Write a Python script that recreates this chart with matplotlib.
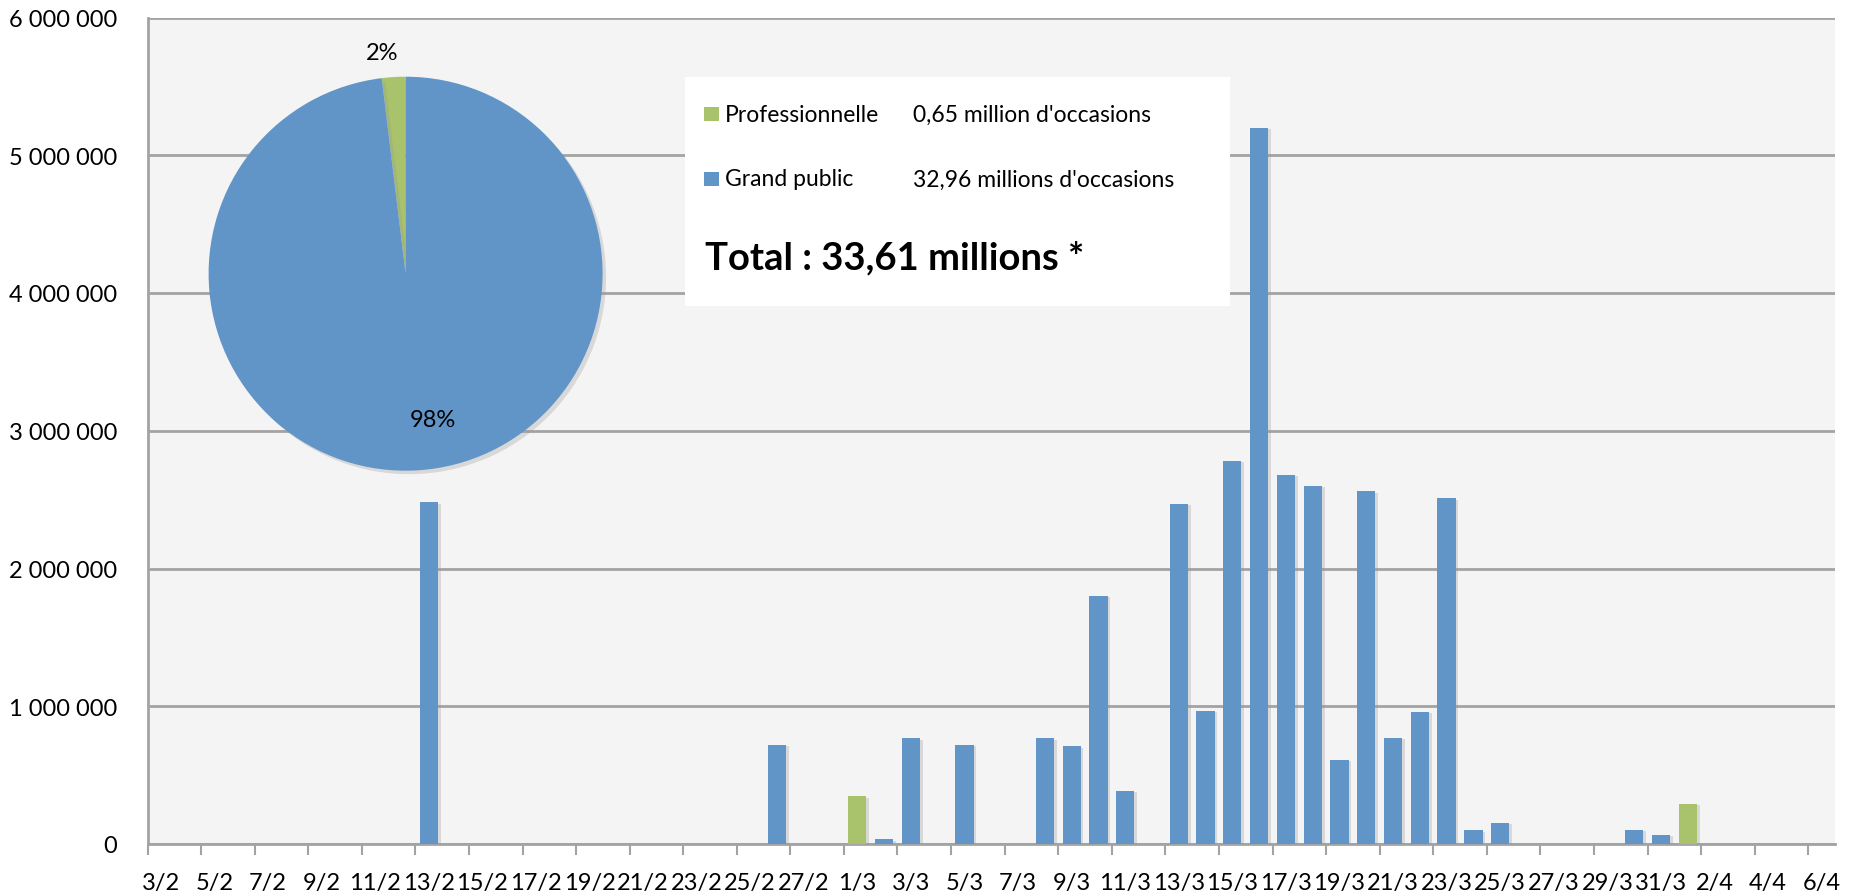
import matplotlib
matplotlib.use("Agg")
import matplotlib.pyplot as plt
import matplotlib.patheffects as pe
from matplotlib.patches import Rectangle
from matplotlib.ticker import FuncFormatter, FixedLocator
import pandas as pd
import numpy as np

plt.rcParams['font.family'] = ['Lato', 'DejaVu Sans']

# daily occasions, one slot per day from 3/2 to 6/4
days = pd.date_range("2019-02-03", "2019-04-06", freq="D")
day_labels = [f"{d.day}/{d.month}" for d in days]

gp_days = ["13/2", "26/2", "2/3", "3/3", "5/3", "8/3", "9/3", "10/3", "11/3",
           "13/3", "14/3", "15/3", "16/3", "17/3", "18/3", "19/3", "20/3",
           "21/3", "22/3", "23/3", "24/3", "25/3", "30/3", "31/3"]
gp_vals = [2480000, 720000, 34000, 767000, 720000, 767000, 710000, 1800000,
           386000, 2470000, 968000, 2780000, 5200000, 2680000, 2600000,
           610000, 2560000, 772000, 959000, 2510000, 100000, 153000,
           104000, 68000]

pro_days = ["1/3", "1/4"]
pro_vals = [347000, 291000]

# totals in millions, as announced
pie_labels = ["Professionnelle", "Grand public"]
pie_totals = [0.65, 32.96]
total_text = "Total : 33,61 millions *"

BLUE = "#6195C8"
GREEN = "#A8C36B"
GRID = "#A3A3A3"

W, H = 1854, 895
fig = plt.figure(figsize=(W / 100, H / 100), dpi=100)
fig.patch.set_facecolor("white")

ax = fig.add_axes([147.5 / W, (H - 845) / H, (1835 - 147.5) / W, (845 - 18.5) / H])
ax.set_facecolor("#F4F4F4")

shadow = [pe.SimplePatchShadow(offset=(2, -1), shadow_rgbFace="#999999", alpha=0.3), pe.Normal()]

gp_x = [day_labels.index(d) for d in gp_days]
pro_x = [day_labels.index(d) for d in pro_days]
ax.bar(gp_x, gp_vals, width=0.68, color=BLUE, zorder=3, path_effects=shadow)
ax.bar(pro_x, pro_vals, width=0.68, color=GREEN, zorder=3, path_effects=shadow)

ax.set_xlim(-0.5, len(days) - 0.5)
ax.set_ylim(0, 6000000)

# labels on every other day, tick marks on the slot edges
ax.xaxis.set_major_locator(FixedLocator(np.arange(0, len(days), 2)))
ax.set_xticklabels(day_labels[::2])
ax.xaxis.set_minor_locator(FixedLocator(np.arange(-0.5, len(days) - 1, 2)))
ax.tick_params(axis="x", which="major", length=0, labelsize=17, pad=20)
ax.tick_params(axis="x", which="minor", length=8, width=1.5, color=GRID)

ax.set_yticks(np.arange(0, 6000001, 1000000))
ax.yaxis.set_major_formatter(FuncFormatter(lambda v, p: f"{int(v):,}".replace(",", " ")))
ax.tick_params(axis="y", length=0, labelsize=17, pad=22)

ax.grid(axis="y", color=GRID, linewidth=2, zorder=1)
ax.set_axisbelow(True)
for s in ["top", "right"]:
    ax.spines[s].set_visible(False)
for s in ["left", "bottom"]:
    ax.spines[s].set_color(GRID)
    ax.spines[s].set_linewidth(2)

# pie inset
pax = fig.add_axes([(405.6 - 197) / W, (H - 274.7 - 197) / H, 394 / W, 394 / H])
wedges, texts, autotexts = pax.pie(pie_totals, colors=[GREEN, BLUE], startangle=90,
                                   counterclock=True, radius=1, autopct="%1.0f%%",
                                   textprops={"fontsize": 17})
for w in wedges:
    w.set_path_effects([pe.SimplePatchShadow(offset=(2.5, -2.5), shadow_rgbFace="#999999", alpha=0.3), pe.Normal()])
autotexts[0].set_position((-0.12, 1.125))
autotexts[1].set_position((0.14, -0.74))
pax.set_xlim(-1, 1)
pax.set_ylim(-1, 1)
pax.set_aspect("equal")
pax.axis("off")

# key box with totals
fig.patches.append(Rectangle((684.6 / W, 1 - 307.4 / H), (1229.7 - 684.6) / W, (307.4 - 78) / H,
                             transform=fig.transFigure, facecolor="white", edgecolor="none", zorder=5))
rows = [(115, GREEN, pie_labels[0], "0,65 million d'occasions"),
        (180, BLUE, pie_labels[1], "32,96 millions d'occasions")]
for y, c, name, txt in rows:
    fig.patches.append(Rectangle((704.3 / W, 1 - (y + 6.5) / H), 14.5 / W, 14 / H,
                                 transform=fig.transFigure, facecolor=c, edgecolor="none", zorder=6))
    fig.text(725 / W, 1 - y / H, name, fontsize=16.5, va="center", zorder=7)
    fig.text(913 / W, 1 - y / H, txt, fontsize=16.5, va="center", zorder=7)
fig.text(705 / W, 1 - 258 / H, total_text, fontsize=27.5, fontweight="bold", va="center", zorder=7)

fig.savefig("out.png", dpi=100)
